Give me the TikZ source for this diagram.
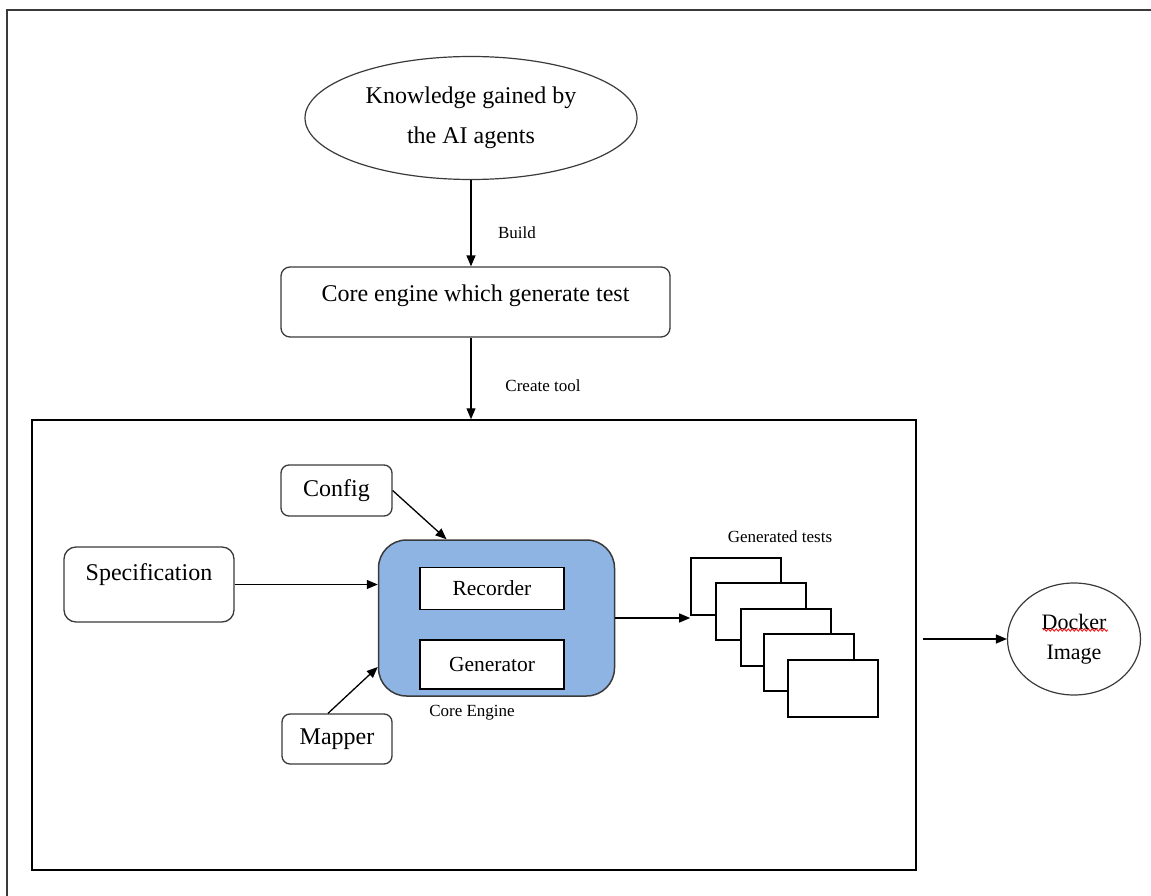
\documentclass[tikz,border=0pt]{standalone}
\usepackage{fontspec}
\setmainfont{Liberation Serif}
\usepackage{tikz}
\usetikzlibrary{arrows.meta,positioning,shapes.geometric,decorations.pathmorphing}
\definecolor{engblue}{HTML}{8EB4E3}
\definecolor{edgegray}{HTML}{3A3A3A}
\tikzset{
  ar/.style={-{Triangle[length=11pt,width=9pt]},line width=1.3pt},
  box/.style={draw=edgegray,line width=1.3pt,rounded corners=9pt,fill=white,inner sep=0pt,font=\fontsize{24}{28}\selectfont},
  inbox/.style={draw,line width=1.5pt,fill=white,inner sep=0pt,minimum width=144pt,minimum height=42pt,font=\fontsize{21.5}{26}\selectfont},
  testbox/.style={draw,line width=1.6pt,fill=white,minimum width=90pt,minimum height=57pt},
  small/.style={font=\fontsize{17}{20}\selectfont,inner sep=0pt},
  oval/.style={ellipse,draw=edgegray,line width=1.2pt,inner sep=0pt,align=center}
}
\begin{document}
\begin{tikzpicture}[x=1pt,y=-1pt]
\useasboundingbox (0,0) rectangle (1151,896);
\draw[line width=1.5pt,edgegray] (7,896) -- (7,10) -- (1151,10);
% top part
\node[oval,minimum width=332pt,minimum height=123pt,font=\fontsize{24}{40}\selectfont] (know) at (471,118) {Knowledge gained by\\the AI agents};
\node[box,minimum width=389pt,minimum height=70pt,text height=17pt,text depth=19pt] (core) at (475.5,302) {Core engine which generate test};
\node[draw,line width=1.5pt,minimum width=884pt,minimum height=450pt] (frame) at (474,645) {};
\draw[ar] (know.south) -- (know.south |- core.north);
\node[small] (build) at (517,233) {Build};
\draw[ar] (know.south |- core.south) -- (know.south |- frame.north);
\node[small] (mktool) at (543,386) {Create tool};
% inside the tool
\node[box,rounded corners=8pt,minimum width=111pt,minimum height=51pt] (config) at (336.5,490.5) {Config};
\node[box,rounded corners=12pt,minimum width=170pt,minimum height=75pt,text height=17pt,text depth=26pt] (spec) at (149,584.5) {Specification};
\node[box,rounded corners=8pt,minimum width=110pt,minimum height=50pt] (mapper) at (337,739) {Mapper};
\node[draw=edgegray,line width=1.5pt,fill=engblue,rounded corners=28pt,minimum width=236pt,minimum height=156pt] (eng) at (496.5,618) {};
\node[inbox] (rec) at (492,588.5) {Recorder};
\node[inbox,minimum height=49pt] (gen) at (492,664.5) {Generator};
\node[small] (englbl) at (472,713) {Core Engine};
\draw[ar] (config.east) -- ([xshift=-50pt]eng.north);
\draw[ar] (spec.east) -- (spec.east -| eng.west);
\draw[ar] ([xshift=-9pt]mapper.north) -- ([yshift=-49pt]eng.west);
% generated tests
\foreach \i/\cx/\cy in {0/736/586.5,1/761/611.5,2/786/637.5,3/809/662.5,4/833/688.5}
  \node[testbox] (t\i) at (\cx,\cy) {};
\node[small] (gtlbl) at (780,537) {Generated tests};
\draw[ar] (eng.east) -- (eng.east -| t0.west);
% docker
\node[oval,minimum width=133pt,minimum height=112pt,font=\fontsize{22}{30}\selectfont] (dock) at (1074,639) {Docker\\Image};
\draw[red,line width=0.8pt,decorate,decoration={snake,amplitude=1.2pt,segment length=4pt}] ([xshift=-31pt,yshift=9pt]dock.center) -- ([xshift=34pt,yshift=9pt]dock.center);
\draw[ar] ([xshift=6pt]frame.east |- dock.west) -- (dock.west);
\end{tikzpicture}
\end{document}
